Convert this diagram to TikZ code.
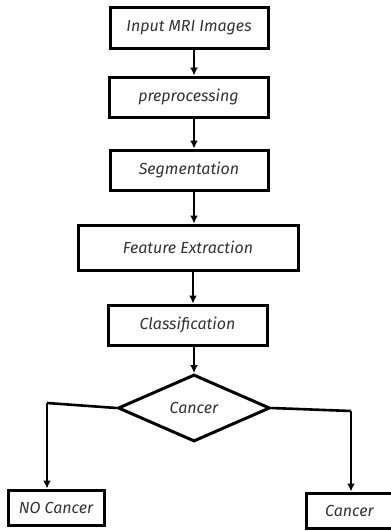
\documentclass[tikz,border=0pt]{standalone}
\usepackage{fontspec}
\setmainfont{Fira Sans}
\usetikzlibrary{shapes.geometric,arrows.meta}
\begin{document}
\begin{tikzpicture}[x=1pt,y=-1pt,
  stepbox/.style={draw,line width=3pt,rectangle,inner sep=0pt,font=\itshape\fontsize{16}{18}\selectfont,text=black!80},
  decbox/.style={draw,line width=3pt,diamond,aspect=2.3,inner sep=0pt,minimum width=152pt,minimum height=67pt,font=\itshape\fontsize{16}{18}\selectfont,text=black!80},
  flow/.style={line width=2.6pt,-{Latex[length=8pt,width=8pt]}},
  link/.style={line width=2.6pt}]
\useasboundingbox (0,0) rectangle (391,531);
\node[stepbox,minimum width=158pt,minimum height=41pt] (inp) at (189,27.5) {Input MRI Images};
\node[stepbox,minimum width=159pt,minimum height=40pt] (pre) at (188.5,97) {preprocessing};
\node[stepbox,minimum width=158pt,minimum height=40pt] (seg) at (189,170) {Segmentation};
\node[stepbox,minimum width=220pt,minimum height=45pt] (fea) at (188,247.5) {Feature Extraction};
\node[stepbox,minimum width=159pt,minimum height=40pt] (cls) at (187.5,325) {Classification};
\node[decbox] (dec) at (194,408) {Cancer};
\node[stepbox,minimum width=96pt,minimum height=35pt] (no) at (56,507.5) {NO Cancer};
\node[stepbox,minimum width=86pt,minimum height=35pt,anchor=west] (yes) at (305,510.5) {Cancer};
\coordinate (lc) at (47,403);
\coordinate (rc) at (351,411);
\draw[flow] (inp.south -| 194,0) -- (pre.north -| 194,0);
\draw[flow] (pre.south -| 194,0) -- (seg.north -| 194,0);
\draw[flow] (seg.south -| 194,0) -- (fea.north -| 194,0);
\draw[flow] (fea.south -| 193,0) -- (cls.north -| 193,0);
\draw[flow] (cls.south -| 194,0) -- (dec.north);
\draw[link] (dec.west) -- (lc);
\draw[flow] (lc) -- (no.north -| lc);
\draw[link] (dec.east) -- (rc);
\draw[flow] (rc) -- (yes.north -| rc);
\end{tikzpicture}
\end{document}
